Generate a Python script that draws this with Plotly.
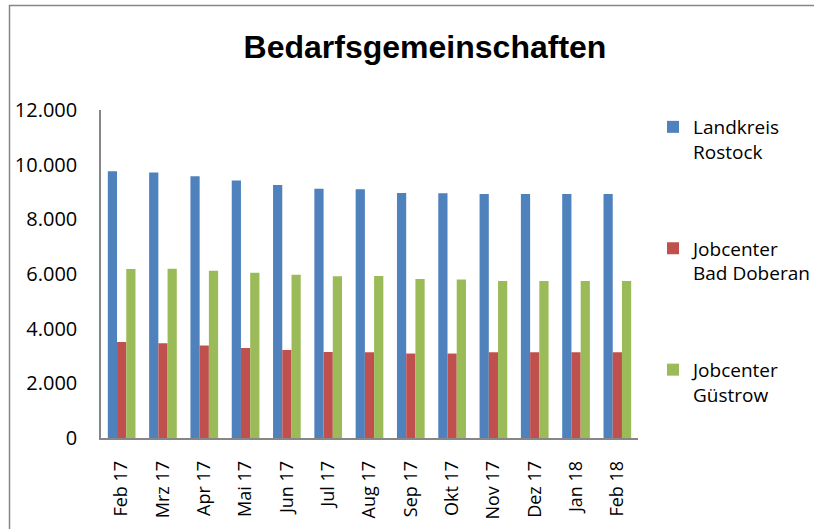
import plotly.graph_objects as go

months = ["Feb 17", "Mrz 17", "Apr 17", "Mai 17", "Jun 17", "Jul 17", "Aug 17",
          "Sep 17", "Okt 17", "Nov 17", "Dez 17", "Jan 18", "Feb 18"]
landkreis = [9760, 9710, 9580, 9420, 9260, 9120, 9100, 8965, 8950, 8930, 8930, 8930, 8930]
bad_doberan = [3510, 3465, 3380, 3295, 3220, 3150, 3135, 3090, 3090, 3135, 3135, 3135, 3135]
guestrow = [6185, 6195, 6120, 6050, 5975, 5915, 5925, 5820, 5795, 5745, 5745, 5745, 5745]
series_names = ["Landkreis<br>Rostock", "Jobcenter<br>Bad Doberan", "Jobcenter<br>Güstrow"]
colors = ["#4F81BD", "#C0504D", "#9BBB59"]
y_ticks = [0, 2000, 4000, 6000, 8000, 10000, 12000]
y_tick_text = ["0", "2.000", "4.000", "6.000", "8.000", "10.000", "12.000"]

fig = go.Figure()
for i, (name, vals) in enumerate(zip(series_names, [landkreis, bad_doberan, guestrow])):
    fig.add_trace(go.Bar(x=months, y=vals, name=name, marker_color=colors[i],
                         marker_line_width=0, legendgroup=f"g{i}"))

L, R, T, B = 101, 176, 110, 91
W, H = 814, 529
pw, ph = W - L - R, H - T - B

fig.update_layout(
    width=W, height=H,
    margin=dict(l=L, r=R, t=T, b=B, autoexpand=False),
    paper_bgcolor="white", plot_bgcolor="white",
    barmode="group", bargap=0.33, bargroupgap=0,
    title=dict(text="<b>Bedarfsgemeinschaften</b>", x=425 / W, xanchor="center",
               y=1 - 47 / H, yanchor="middle",
               font=dict(family="Liberation Sans, Arial", size=32, color="black")),
    font=dict(family="Open Sans, Noto Sans", color="black"),
    legend=dict(x=(653 - L) / pw, xanchor="left", y=1 - (108 - T) / ph, yanchor="top",
                font=dict(family="Open Sans", size=19, color="black"),
                tracegroupgap=69, valign="top", bgcolor="rgba(0,0,0,0)", maxheight=1),
    showlegend=True,
)
fig.update_xaxes(showline=True, linecolor="#868686", linewidth=1.5, showgrid=False,
                 tickangle=-90, tickfont=dict(family="Open Sans", size=18, color="black"),
                 ticks="", ticklabelstandoff=14)
fig.update_yaxes(range=[0, 12000], tickvals=y_ticks, ticktext=y_tick_text,
                 showline=True, linecolor="#868686", linewidth=1.5, showgrid=False,
                 zeroline=False, ticks="",
                 tickfont=dict(family="Open Sans", size=20, color="black"),
                 ticklabelstandoff=18)

# outer chart border
fig.add_shape(type="rect", xref="paper", yref="paper",
              x0=(9.5 - L) / pw, x1=(830 - L) / pw,
              y0=1 - (545 - T) / ph, y1=1 - (5.5 - T) / ph,
              line=dict(color="#868686", width=1.5), fillcolor="rgba(0,0,0,0)", layer="below")

fig.write_html("out.html", config={"displayModeBar": False},
               post_script="document.body.style.margin='0';document.body.style.overflow='hidden';")
